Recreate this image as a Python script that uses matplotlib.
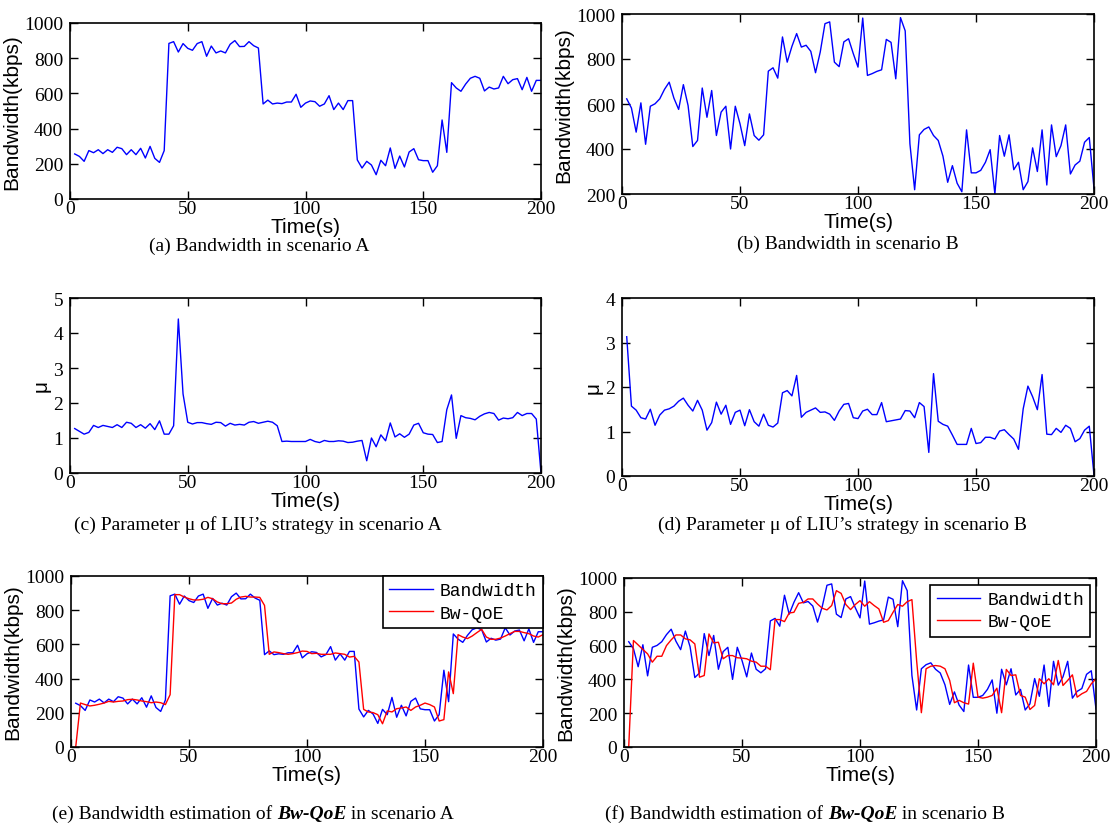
import numpy as np
import matplotlib
matplotlib.use("Agg")
import matplotlib.pyplot as plt
from matplotlib.text import Annotation

# Time axis: one sample every 2 seconds
time = np.arange(2, 201, 2)

# Bandwidth in scenario A (kbps)
bw_a = [256, 242, 214, 275, 263, 280, 258, 280, 265, 294, 286, 252, 280, 252, 288, 233, 299, 231, 208, 275,
        884, 894, 835, 883, 856, 845, 883, 894, 811, 869, 830, 841, 830, 879, 900, 866, 867, 894, 871, 858,
        540, 562, 540, 545, 542, 551, 551, 595, 521, 545,
        557, 553, 527, 540, 587, 508, 545, 508, 559, 559, 222, 176, 214, 193, 138, 220, 189, 290, 174, 244,
        182, 267, 286, 223, 218, 218, 152, 189, 449, 265, 661, 631, 612, 653, 686, 697, 686, 614, 636, 625,
        631, 697, 655, 678, 684, 621, 691, 612, 674, 674]

# Bandwidth in scenario B (kbps)
bw_b = [623, 582, 475, 605, 421, 590, 601, 623, 665, 697, 626, 576, 686, 593, 411, 438, 671, 541, 660, 460,
        564, 590, 400, 590, 512, 415, 556, 460, 439, 463, 746, 761, 715, 898, 786, 856, 913, 853, 861, 834,
        739, 831, 957, 965, 786, 766, 876, 890, 824, 764,
        982, 727, 735, 745, 752, 887, 874, 712, 984, 925, 423, 219, 463, 487, 498, 460, 438, 368, 252, 326,
        248, 210, 485, 294, 294, 305, 341, 397, 200, 460, 368, 463, 308, 341, 219, 255, 405, 300, 485, 240,
        507, 366, 415, 507, 289, 329, 346, 430, 451, 225]

# Parameter mu of LIU's strategy
mu_a = [1.27, 1.19, 1.11, 1.16, 1.36, 1.30, 1.36, 1.33, 1.30, 1.38, 1.30, 1.45, 1.42, 1.30, 1.38, 1.28, 1.41,
        1.24, 1.49, 1.11, 1.11, 1.35, 4.40, 2.26, 1.45, 1.40, 1.44, 1.44, 1.41, 1.39, 1.45, 1.44, 1.34, 1.42,
        1.37, 1.39, 1.37, 1.45, 1.47, 1.42, 1.45, 1.48, 1.45, 1.35, 0.90, 0.91, 0.90, 0.90, 0.90, 0.90,
        0.96, 0.90, 0.87, 0.93, 0.90, 0.90, 0.92, 0.91, 0.87, 0.88, 0.91, 0.93, 0.35, 1.00, 0.75, 1.09, 0.92,
        1.43, 1.03, 1.12, 1.02, 1.11, 1.37, 1.42, 1.15, 1.11, 1.10, 0.87, 0.90, 1.81, 2.23, 0.99, 1.64, 1.58,
        1.56, 1.52, 1.62, 1.69, 1.73, 1.70, 1.51, 1.57, 1.55, 1.58, 1.73, 1.64, 1.70, 1.70, 1.54, 0.0]

mu_b = [3.13, 1.57, 1.48, 1.31, 1.28, 1.50, 1.14, 1.37, 1.48, 1.51, 1.57, 1.68, 1.75, 1.59, 1.46, 1.70, 1.48,
        1.03, 1.20, 1.66, 1.39, 1.59, 1.16, 1.43, 1.48, 1.13, 1.49, 1.22, 1.12, 1.39, 1.14, 1.10, 1.19, 1.87,
        1.92, 1.80, 2.26, 1.32, 1.43, 1.48, 1.53, 1.43, 1.44, 1.39, 1.25, 1.46, 1.61, 1.63, 1.31, 1.29,
        1.46, 1.50, 1.38, 1.38, 1.65, 1.22, 1.24, 1.26, 1.28, 1.47, 1.46, 1.31, 1.65, 1.56, 0.53, 2.30, 1.23,
        1.16, 1.12, 0.92, 0.71, 0.71, 0.71, 1.07, 0.73, 0.75, 0.87, 0.87, 0.83, 1.01, 1.04, 0.93, 0.83, 0.60,
        1.51, 2.02, 1.78, 1.49, 2.28, 0.94, 0.93, 1.07, 0.98, 1.14, 1.07, 0.77, 0.84, 1.03, 1.12, 0.02]

# Bw-QoE bandwidth estimation (kbps)
est_a = [0, 257, 248, 240, 244, 250, 257, 267, 263, 267, 269, 277, 279, 275, 269, 265, 259, 263, 259, 248,
         306, 891, 891, 877, 867, 860, 860, 864, 875, 867, 848, 838, 838, 842, 864, 877, 881, 877, 877, 875,
         828, 542, 556, 552, 546, 542, 546, 552, 561, 559,
         546, 548, 542, 542, 542, 550, 546, 542, 526, 530, 497, 220, 205, 201, 189, 136, 211, 205, 224, 228,
         234, 214, 234, 244, 257, 248, 234, 152, 160, 439, 312, 657, 643, 634, 649, 669, 688, 643, 630, 630,
         637, 649, 663, 676, 676, 669, 663, 649, 643, 657]

est_b = [0, 630, 604, 577, 551, 502, 537, 537, 600, 634, 663, 663, 640, 634, 610, 413, 423, 669, 616, 620,
         522, 541, 541, 528, 526, 522, 508, 502, 478, 478, 457, 754, 754, 742, 793, 797, 850, 856, 876, 876,
         846, 821, 811, 837, 925, 909, 843, 813, 843, 866,
         833, 860, 837, 817, 738, 748, 797, 843, 833, 860, 872, 510, 203, 463, 478, 482, 478, 463, 394, 262,
         276, 262, 254, 496, 295, 289, 295, 305, 348, 203, 459, 423, 427, 305, 295, 222, 246, 404, 374, 404,
         368, 512, 364, 394, 427, 295, 315, 329, 374, 404]

captions = ["(a) Bandwidth in scenario A", "(b) Bandwidth in scenario B",
            "(c) Parameter \u03bc of LIU\u2019s strategy in scenario A",
            "(d) Parameter \u03bc of LIU\u2019s strategy in scenario B"]

W, H = 1111, 829
fig = plt.figure(figsize=(W / 100, H / 100), dpi=100)


def px_axes(left, top, right, bottom):
    # axes from a pixel box
    return fig.add_axes([left / W, 1 - bottom / H, (right - left) / W, (bottom - top) / H])


def style(ax, ylim, yticks, ylabel):
    ax.set_xlim(0, 200)
    ax.set_ylim(*ylim)
    ax.set_xticks([0, 50, 100, 150, 200])
    ax.set_yticks(yticks)
    ax.tick_params(direction="in", top=True, right=True, length=6, width=1, labelsize=14)
    ax.tick_params(axis="x", pad=1)
    ax.tick_params(axis="y", pad=5)
    for lab in ax.get_xticklabels() + ax.get_yticklabels():
        lab.set_fontfamily("Liberation Serif")
    for sp in ax.spines.values():
        sp.set_linewidth(1.2)
    ax.set_xlabel("Time(s)", fontsize=15, family="Liberation Sans", labelpad=0)
    ax.set_ylabel(ylabel, fontsize=15, family="Liberation Sans", labelpad=2)


ax_a = px_axes(70, 24, 541, 200)
ax_a.plot(time, bw_a, color="#0000ff", lw=1.0)
style(ax_a, (0, 1000), range(0, 1001, 200), "Bandwidth(kbps)")

ax_b = px_axes(622, 15, 1094, 195)
ax_b.plot(time, bw_b, color="#0000ff", lw=1.0)
style(ax_b, (200, 1000), range(200, 1001, 200), "Bandwidth(kbps)")

ax_c = px_axes(70, 299, 541, 474)
ax_c.plot(time, mu_a, color="#0000ff", lw=1.0)
style(ax_c, (0, 5), range(0, 6), "\u03bc")

ax_d = px_axes(622, 299, 1094, 477)
ax_d.plot(time, mu_b, color="#0000ff", lw=1.0)
style(ax_d, (0, 4), range(0, 5), "\u03bc")

ax_e = px_axes(71, 577, 543, 748)
ax_e.plot(time, bw_a, color="#0000ff", lw=1.0, label="Bandwidth")
ax_e.plot(time, est_a, color="#ff0000", lw=1.0, label="Bw-QoE")
style(ax_e, (0, 1000), range(0, 1001, 200), "Bandwidth(kbps)")

ax_f = px_axes(624, 579, 1096, 748)
ax_f.plot(time, bw_b, color="#0000ff", lw=1.0, label="Bandwidth")
ax_f.plot(time, est_b, color="#ff0000", lw=1.0, label="Bw-QoE")
style(ax_f, (0, 1000), range(0, 1001, 200), "Bandwidth(kbps)")

# legends with a square black frame
for ax, anchor in [(ax_e, (1.0, 1.0)), (ax_f, (0.988, 0.96))]:
    leg = ax.legend(loc="upper right", bbox_to_anchor=anchor, fancybox=False, framealpha=1,
                    edgecolor="black", borderaxespad=0, handlelength=2.4, handletextpad=0.4,
                    borderpad=0.35, labelspacing=0.3,
                    prop={"family": "Liberation Mono", "size": 13})
    leg.get_frame().set_linewidth(1.2)

# captions under panels (a)-(d)
cap_pos = [(259, 246), (848, 244), (258, 525), (842, 525)]
for text, (cx, cy) in zip(captions, cap_pos):
    fig.text(cx / W, 1 - cy / H, text, ha="center", va="center", fontsize=14, family="Liberation Serif")

# captions (e) and (f) with the method name in bold italic
for start, letter, scen in [(52, "(e)", "A"), (605, "(f)", "B")]:
    t1 = fig.text(start / W, 1 - 823 / H, letter + " Bandwidth estimation of ", ha="left", va="bottom",
                  fontsize=14, family="Liberation Serif")
    a2 = fig.add_artist(Annotation("Bw-QoE", xy=(1, 0), xycoords=t1, va="bottom",
                                   fontsize=14, family="Liberation Serif",
                                   fontweight="bold", fontstyle="italic"))
    fig.add_artist(Annotation(" in scenario " + scen, xy=(1, 0), xycoords=a2, va="bottom",
                              fontsize=14, family="Liberation Serif"))

fig.savefig("out.png", dpi=100)
